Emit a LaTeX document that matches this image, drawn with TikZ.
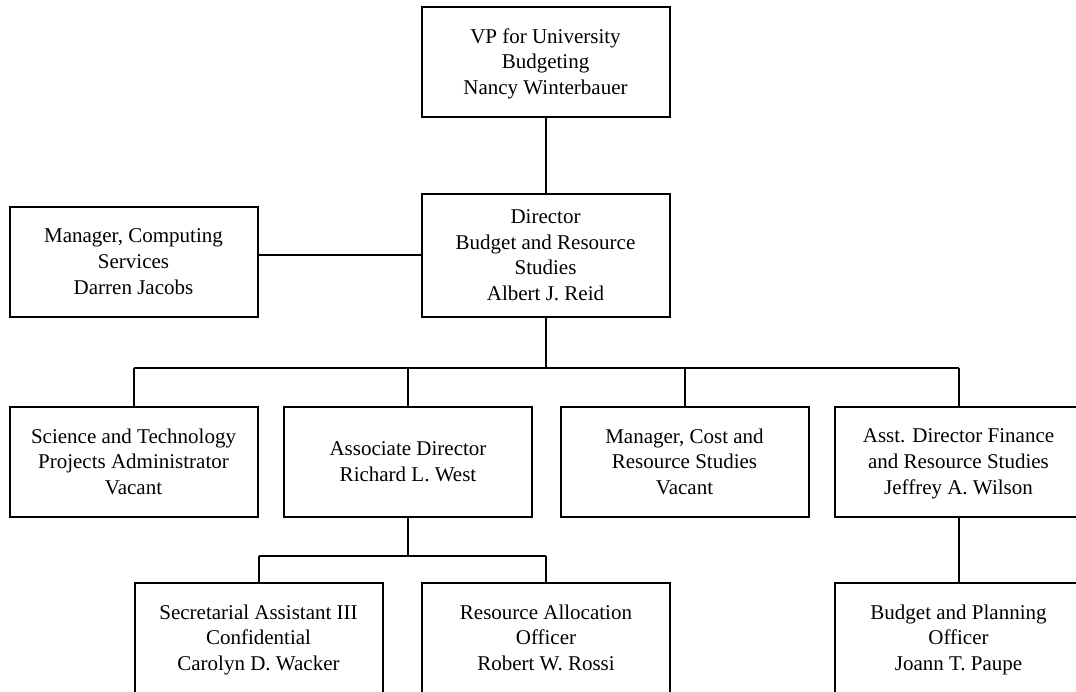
\documentclass[tikz,border=0pt]{standalone}
\usepackage{fontspec}
\setmainfont{Liberation Serif}
\begin{document}
\begin{tikzpicture}[x=1pt,y=-1pt,
  box/.style={draw, line width=2pt, minimum width=248pt, minimum height=110pt,
    align=center, inner sep=0pt, font=\fontsize{21}{25.6}\selectfont,
    execute at begin node=\strut, execute at end node=\strut, text depth=0pt},
  tall/.style={box, minimum height=123pt},
  link/.style={line width=2pt}]
\useasboundingbox (0,0) rectangle (1076,691);
\clip (0,0) rectangle (1076,691);

% top of the chart
\node[box]  (vp)  at (545.5,61.5) {VP for University\\Budgeting\\Nancy Winterbauer};
\node[tall] (dir) at (545.5,255)  {Director\\Budget and Resource\\Studies\\Albert J. Reid};
\node[box]  (mgr) at (133.5,261.5) {Manager, Computing\\Services\\Darren Jacobs};

% second level
\node[box] (sci)   at (133.5,461.5) {Science and Technology\\Projects Administrator\\Vacant};
\node[box] (assoc) at (408,461.5)   {Associate Director\\Richard L. West};
\node[box] (cost)  at (684.5,461.5) {Manager, Cost and\\Resource Studies\\Vacant};
\node[box] (asst)  at (958.5,461.5) {Asst. Director Finance\\and Resource Studies\\Jeffrey A. Wilson};

% third level
\node[box] (sec) at (258.5,637.5) {Secretarial Assistant III\\Confidential\\Carolyn D. Wacker};
\node[box] (res) at (546,637.5)   {Resource Allocation\\Officer\\Robert W. Rossi};
\node[box] (bud) at (958.5,637.5) {Budget and Planning\\Officer\\Joann T. Paupe};

% reporting lines
\coordinate (bus) at (0,368);
\coordinate (sub) at (0,556);
\draw[link] (vp.south) -- (dir.north);
\draw[link] (dir.west) -- (dir.west -| mgr.east);
\draw[link] (dir.south) -- (dir.south |- bus);
\draw[link] (sci.north |- bus) -- (asst.north |- bus);
\foreach \n in {sci,assoc,cost,asst}
  \draw[link] (\n.north) -- (\n.north |- bus);
\draw[link] (assoc.south) -- (assoc.south |- sub);
\draw[link] (sec.north |- sub) -- (res.north |- sub);
\draw[link] (sec.north) -- (sec.north |- sub);
\draw[link] (res.north) -- (res.north |- sub);
\draw[link] (asst.south) -- (bud.north);
\end{tikzpicture}
\end{document}
